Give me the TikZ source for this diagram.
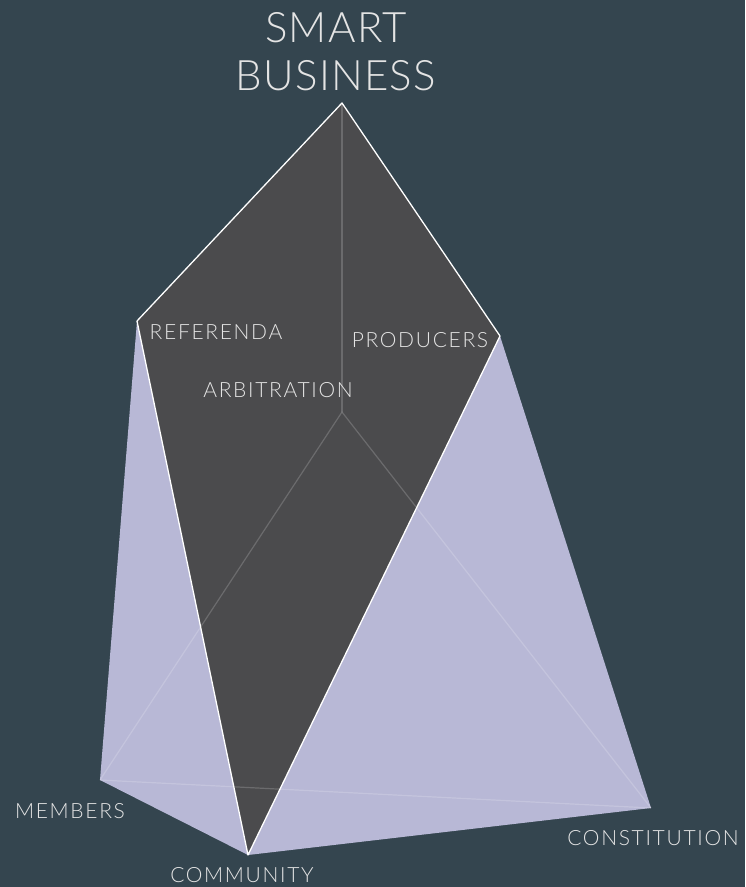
\documentclass[tikz,border=0pt]{standalone}
\usepackage{fontspec}
\setmainfont{Lato}[UprightFont=* Light]
\definecolor{bg}{HTML}{34454F}
\definecolor{face}{HTML}{4B4B4D}
\definecolor{lav}{HTML}{B8B8D6}
\definecolor{txt}{HTML}{E4E4E4}
\tikzset{
  lbl/.style={text=txt, inner sep=0pt, anchor=base, font=\fontsize{21}{24}\selectfont\addfontfeature{LetterSpace=8}},
  ttl/.style={text=txt, inner sep=0pt, align=center, font=\fontsize{42}{48}\selectfont\addfontfeature{LetterSpace=3}},
  edgeline/.style={draw=white, line width=1.3pt, line join=round},
  hidden/.style={draw=white, draw opacity=0.18, line width=1.2pt}
}
\begin{document}
\begin{tikzpicture}[x=1pt,y=-1pt]
\fill[bg] (0,0) rectangle (745,887);
\useasboundingbox (0,0) rectangle (745,887);
\coordinate (T) at (342,103);
\coordinate (R) at (137,321);
\coordinate (P) at (500,336);
\coordinate (A) at (342,412);
\coordinate (M) at (100,780);
\coordinate (C) at (248,855);
\coordinate (K) at (651,808);
% lavender hull
\fill[lav] (R) -- (M) -- (C) -- (K) -- (P) -- cycle;
% dark front face
\fill[face] (T) -- (R) -- (C) -- (P) -- cycle;
% hidden edges
\draw[hidden] (T) -- (A);
\draw[hidden] (A) -- (M);
\draw[hidden] (A) -- (K);
\draw[hidden] (M) -- (K);
% visible edges
\draw[edgeline] (R) -- (T) -- (P);
\draw[edgeline] (R) -- (C) -- (P);
% labels
\node[ttl] (title) at (336,52) {SMART\\BUSINESS};
\node[lbl] (ref) at (216,339) {REFERENDA};
\node[lbl] (prod) at (420,347) {PRODUCERS};
\node[lbl] (arb) at (278,397) {ARBITRATION};
\node[lbl] (mem) at (70,818) {MEMBERS};
\node[lbl] (con) at (653,845) {CONSTITUTION};
\node[lbl] (com) at (242,882) {COMMUNITY};
\end{tikzpicture}
\end{document}
